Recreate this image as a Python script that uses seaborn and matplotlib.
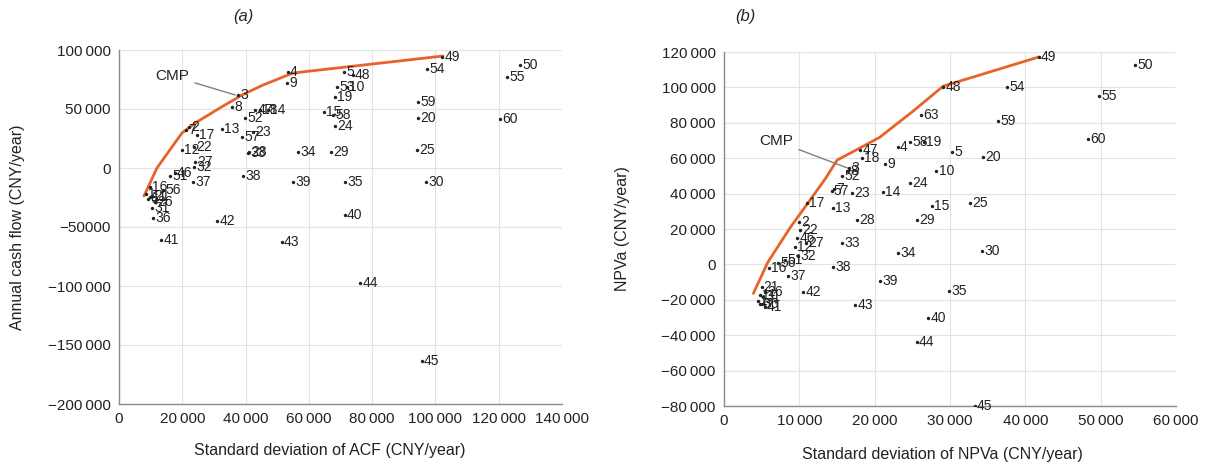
import matplotlib
matplotlib.use("Agg")
import matplotlib.pyplot as plt
import seaborn as sns
import pandas as pd

# panel (a): annual cash flow vs its standard deviation
a_ids = [1, 6, 11, 21, 26, 31, 36, 16, 56, 46, 51, 41, 37, 27, 32, 12, 22, 2, 7, 17,
         42, 13, 57, 23, 33, 28, 38, 3, 8, 52, 47, 18, 14, 4, 9, 43, 34, 39, 5, 48,
         53, 10, 19, 15, 58, 24, 29, 35, 40, 44, 54, 59, 20, 25, 30, 45, 49, 55, 50, 60]
a_sd = [8500, 9200, 9800, 10400, 11400, 10400, 10700, 9800, 13900, 17700, 16100, 13300,
        23400, 24000, 23700, 19900, 23700, 22100, 21200, 24600, 31000, 32500, 38900,
        42300, 40800, 41100, 39200, 37600, 35700, 39800, 43000, 44600, 47100, 53400,
        53100, 51500, 56600, 55000, 71100, 73900, 68900, 72000, 68300, 64800, 67600,
        68300, 67000, 71400, 71400, 76200, 97300, 94500, 94500, 94200, 97000, 95700,
        102100, 122600, 126700, 120400]
a_acf = [-22000, -26300, -24600, -23700, -28800, -33900, -42400, -16100, -18600, -4200,
         -6800, -61000, -11900, 5100, 800, 15300, 17800, 34700, 32200, 28000, -44900,
         33100, 26300, 30500, 12700, 13600, -6800, 61900, 51700, 42400, 49200, 49200,
         49200, 81400, 72000, -62700, 13600, -11900, 81400, 78800, 68600, 68600, 60200,
         47500, 44900, 35600, 13600, -11900, -39800, -97500, 83900, 55900, 42400, 15300,
         -11900, -163600, 94100, 77100, 87300, 41500]
a_front_sd = [7900, 12000, 18300, 19900, 24600, 31900, 38900, 45500, 55000, 63500, 102400]
a_front_acf = [-23700, 0, 23700, 29700, 39000, 50900, 61900, 70300, 80500, 83100, 94900]

# panel (b): NPVa vs its standard deviation
b_ids = [2, 22, 46, 27, 12, 32, 51, 56, 16, 37, 21, 26, 11, 31, 1, 36, 41, 6, 17, 13,
         28, 33, 38, 42, 43, 39, 34, 44, 45, 40, 35, 30, 29, 15, 25, 24, 10, 20, 5,
         4, 58, 19, 9, 14, 23, 57, 7, 52, 3, 8, 18, 47, 63, 59, 48, 54, 55, 49, 60, 50]
b_sd = [10000, 10100, 9700, 10900, 9400, 9800, 8100, 7200, 6000, 8500, 5000, 5400, 4800,
        5200, 4500, 5000, 5400, 4800, 11000, 14500, 17700, 15700, 14500, 10500, 17400,
        20700, 23100, 25600, 33300, 27100, 29900, 34300, 25600, 27600, 32700, 24700,
        28200, 34400, 30300, 23100, 24700, 26600, 21400, 21100, 17000, 14300, 14600,
        15700, 16600, 16500, 18300, 18100, 26200, 36400, 29100, 37600, 49800, 41800,
        48300, 54600]
b_npv = [23800, 19200, 14700, 11900, 9600, 4500, 2300, 600, -2300, -6800, -13000, -15800,
         -17500, -18700, -20400, -22100, -23800, -22600, 34500, 31700, 24900, 11900,
         -1700, -15800, -23200, -9600, 6200, -44100, -79800, -30000, -15300, 7400, 24900,
         32800, 34500, 45800, 52600, 60600, 63400, 66200, 69100, 69100, 56600, 40800,
         40200, 41300, 42500, 49800, 54300, 52600, 60000, 64500, 84300, 80900, 100200,
         100200, 95100, 117200, 70800, 112600]
b_front_sd = [3900, 5800, 8800, 11400, 13500, 15000, 18500, 20700, 25100, 29100, 41800]
b_front_npv = [-16400, 1100, 20900, 36200, 48700, 58900, 66800, 71900, 86600, 100700, 117200]

a_xticks = [0, 20000, 40000, 60000, 80000, 100000, 120000, 140000]
a_xlabels = ["0", "20\u2009000", "40\u2009000", "60\u2009000", "80\u2009000",
             "100\u2009000", "120\u2009000", "140\u2009000"]
a_yticks = [100000, 50000, 0, -50000, -100000, -150000, -200000]
a_ylabels = ["100\u2009000", "50\u2009000", "0", "\u221250000", "\u2212100\u2009000",
             "\u2212150\u2009000", "\u2212200\u2009000"]
b_xticks = [0, 10000, 20000, 30000, 40000, 50000, 60000]
b_xlabels = ["0", "10\u2009000", "20\u2009000", "30\u2009000", "40\u2009000",
             "50\u2009000", "60\u2009000"]
b_yticks = [120000, 100000, 80000, 60000, 40000, 20000, 0, -20000, -40000, -60000, -80000]
b_ylabels = ["120\u2009000", "100\u2009000", "80\u2009000", "60\u2009000", "40\u2009000",
             "20\u2009000", "0", "\u221220\u2009000", "\u221240\u2009000",
             "\u221260\u2009000", "\u221280\u2009000"]

sns.set_theme(style="whitegrid")
plt.rcParams["font.family"] = ["Liberation Sans", "DejaVu Sans"]

W, H = 1206, 470
fig = plt.figure(figsize=(W / 100, H / 100), dpi=100)
ax_a = fig.add_axes([119 / W, 1 - 404 / H, (562 - 119) / W, (404 - 50) / H])
ax_b = fig.add_axes([724 / W, 1 - 406 / H, (1176 - 724) / W, (406 - 52) / H])

line_col = "#e8632b"


def panel(ax, ids, xs, ys, fx, fy, xt, xl, yt, yl, xlim, ylim, cmp_xy, cmp_txt):
    df = pd.DataFrame({"id": ids, "sd": xs, "val": ys})
    fr = pd.DataFrame({"sd": fx, "val": fy})
    sns.lineplot(data=fr, x="sd", y="val", sort=False, color=line_col, lw=2.0,
                 ax=ax, zorder=3)
    sns.scatterplot(data=df, x="sd", y="val", s=6, color="#222222", linewidth=0,
                    ax=ax, zorder=4)
    for _, r in df.iterrows():
        ax.annotate(str(r["id"]), (r["sd"], r["val"]), xytext=(1.5, 0),
                    textcoords="offset points", ha="left", va="center",
                    fontsize=10, color="#222222", zorder=5)
    ax.annotate("CMP", xy=cmp_xy, xytext=cmp_txt, textcoords="figure pixels",
                ha="right", va="center", fontsize=11, color="#222222",
                arrowprops=dict(arrowstyle="-", color="#808080", lw=1.0,
                                shrinkA=2, shrinkB=0))
    ax.set_xlim(*xlim)
    ax.set_ylim(*ylim)
    ax.set_xticks(xt)
    ax.set_xticklabels(xl)
    ax.set_yticks(yt)
    ax.set_yticklabels(yl)
    ax.grid(True, color="#e3e3e3", lw=0.8)
    for s in ["top", "right"]:
        ax.spines[s].set_visible(False)
    for s in ["left", "bottom"]:
        ax.spines[s].set_color("#8a8a8a")
        ax.spines[s].set_linewidth(1.0)
    ax.tick_params(axis="both", direction="in", length=3, color="#8a8a8a",
                   labelsize=11, labelcolor="#222222", pad=6)
    ax.set_facecolor("white")


panel(ax_a, a_ids, a_sd, a_acf, a_front_sd, a_front_acf, a_xticks, a_xlabels,
      a_yticks, a_ylabels, (0, 140000), (-200000, 100000), (36700, 61900), (189, H - 76))
panel(ax_b, b_ids, b_sd, b_npv, b_front_sd, b_front_npv, b_xticks, b_xlabels,
      b_yticks, b_ylabels, (0, 60000), (-80000, 120000), (16500, 54300), (793, H - 141))

ax_a.set_xlabel("Standard deviation of ACF (CNY/year)", fontsize=11.5, color="#222222")
ax_a.set_ylabel("Annual cash flow (CNY/year)", fontsize=11.5, color="#222222")
ax_b.set_xlabel("Standard deviation of NPVa (CNY/year)", fontsize=11.5, color="#222222")
ax_b.set_ylabel("NPVa (CNY/year)", fontsize=11.5, color="#222222")
ax_a.xaxis.set_label_coords((330 - 119) / 443, -(443 - 404) / 354)
ax_a.yaxis.set_label_coords(-(119 - 25) / 443, 0.5)
ax_b.xaxis.set_label_coords((942 - 724) / 452, -(447 - 406) / 354)
ax_b.yaxis.set_label_coords(-(724 - 630) / 452, 0.5)

fig.text(243 / W, 1 - 16 / H, "(a)", style="italic", fontsize=12, ha="center", va="center")
fig.text(745 / W, 1 - 16 / H, "(b)", style="italic", fontsize=12, ha="center", va="center")

fig.savefig("out.png", dpi=100, facecolor="white")
